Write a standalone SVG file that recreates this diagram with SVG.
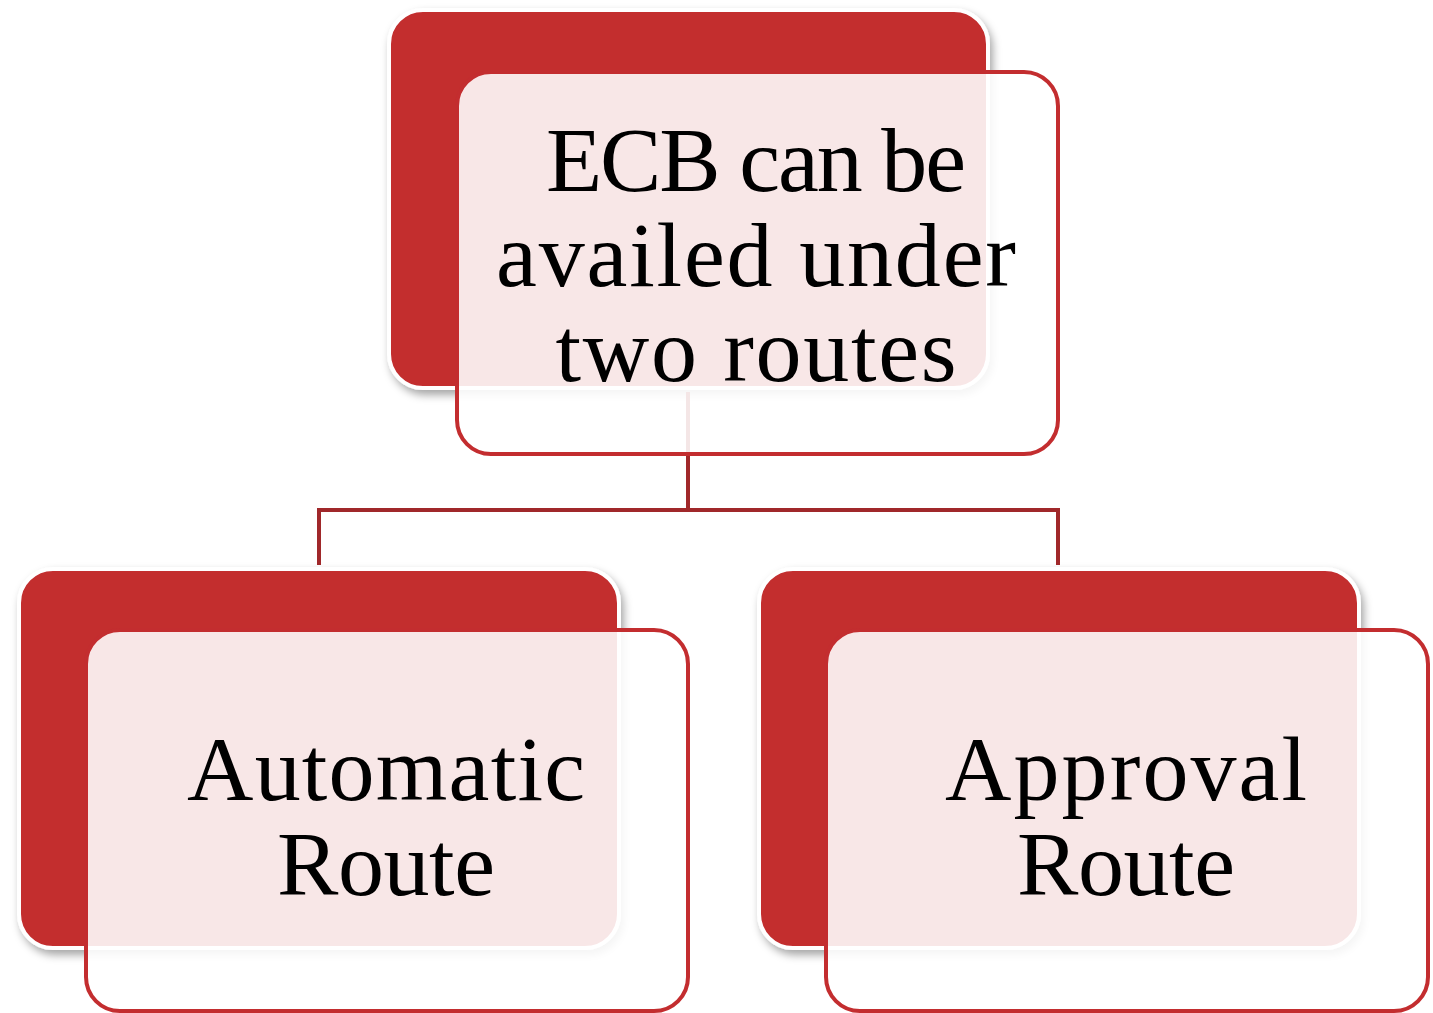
<svg xmlns="http://www.w3.org/2000/svg" width="1433" height="1013" viewBox="0 0 1433 1013">
  <defs>
    <filter id="shadow" x="-10%" y="-10%" width="125%" height="130%">
      <feDropShadow dx="3" dy="5" stdDeviation="4" flood-color="#000" flood-opacity="0.35"/>
    </filter>
  </defs>
  <style>
    .back { fill: #C32D2F; stroke: #FFFFFF; stroke-width: 4; filter: url(#shadow); }
    .front { fill: #FFFFFF; fill-opacity: 0.885; stroke: #C32D2F; stroke-width: 4; }
    .conn { fill: none; stroke: #A0282A; stroke-width: 4; }
    .label { font-family: "Liberation Serif", "Times New Roman", serif; font-size: 92px; fill: #000000; text-anchor: middle; }
  </style>
  <rect width="1433" height="1013" fill="#FFFFFF"/>

  <g id="node-top-back">
    <rect class="back" x="389" y="10" width="599" height="378" rx="34" ry="34"/>
  </g>
  <g id="node-left-back">
    <rect class="back" x="19" y="569" width="600" height="379" rx="34" ry="34"/>
  </g>
  <g id="node-right-back">
    <rect class="back" x="759" y="569" width="600" height="379" rx="34" ry="34"/>
  </g>

  <g id="connectors">
    <path class="conn" d="M688,392 V510 M319,510 H1058 M319,508 V565 M1058,508 V565"/>
  </g>

  <g id="node-top">
    <rect class="front" x="457" y="72" width="601" height="382" rx="34" ry="34"/>
    <text class="label" x="756" y="191" textLength="420" lengthAdjust="spacing">ECB can be</text>
    <text class="label" x="756" y="286" textLength="520" lengthAdjust="spacing">availed under</text>
    <text class="label" x="756" y="381" textLength="401" lengthAdjust="spacing">two routes</text>
  </g>

  <g id="node-automatic">
    <rect class="front" x="86" y="630" width="602" height="381" rx="34" ry="34"/>
    <text class="label" x="386" y="800" textLength="398" lengthAdjust="spacing">Automatic</text>
    <text class="label" x="386" y="895" textLength="218" lengthAdjust="spacing">Route</text>
  </g>

  <g id="node-approval">
    <rect class="front" x="826" y="630" width="602" height="381" rx="34" ry="34"/>
    <text class="label" x="1126" y="800" textLength="362" lengthAdjust="spacing">Approval</text>
    <text class="label" x="1126" y="895" textLength="218" lengthAdjust="spacing">Route</text>
  </g>
</svg>
